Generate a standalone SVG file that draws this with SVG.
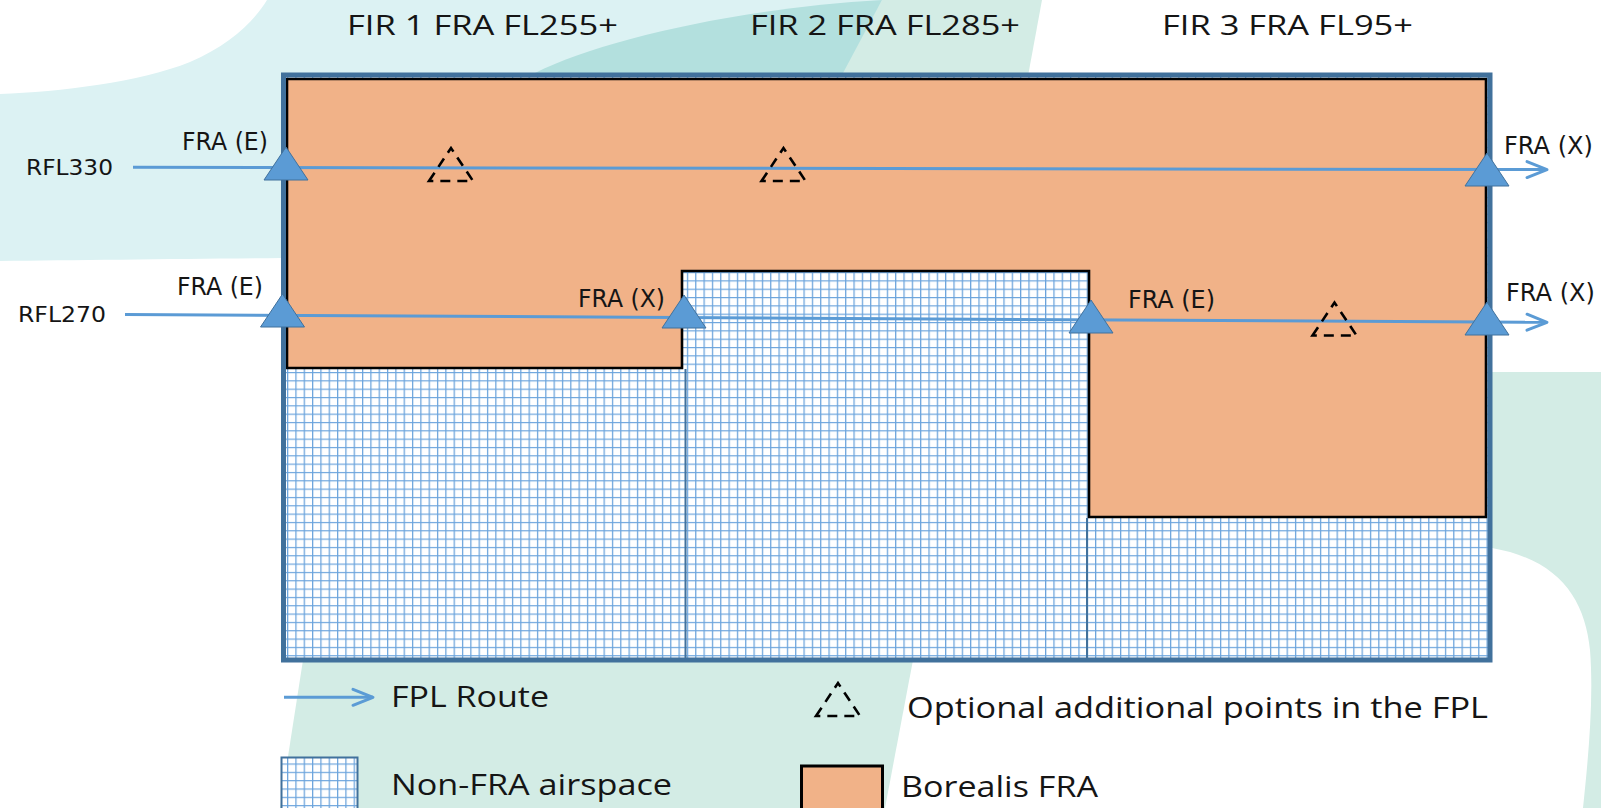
<svg xmlns="http://www.w3.org/2000/svg" xmlns:xlink="http://www.w3.org/1999/xlink" width="1601" height="808" viewBox="0 0 1601 808">
<style>
.lbl{font-family:"DejaVu Sans","Liberation Sans",sans-serif;font-size:24px;fill:#151515}
.ttl{font-family:"Open Sans","Liberation Sans",sans-serif;font-size:28px;fill:#151515}
.leg{font-family:"Open Sans","Liberation Sans",sans-serif;font-size:29px;fill:#151515}
.route{fill:none;stroke:#5b9bd5;stroke-width:3}
.pt{fill:#5b9bd5;stroke:#41719c;stroke-width:1}
.opt{fill:none;stroke:#000;stroke-width:2.6;stroke-dasharray:10 7}
</style>
<defs>
<pattern id="grid" width="8.33" height="8.33" patternUnits="userSpaceOnUse" x="287" y="272">
<rect width="8.33" height="8.33" fill="#fff"/>
<path d="M0,0.6 H8.33 M0.6,0 V8.33" stroke="#6aa3dc" stroke-width="1.3"/>
</pattern>
<marker id="arr" markerUnits="userSpaceOnUse" markerWidth="28" markerHeight="24" viewBox="-25 -12 28 24" refX="0" refY="0" orient="auto">
<path d="M-20,-8 L0,0 L-20,8" fill="none" stroke="#5b9bd5" stroke-width="3" stroke-linecap="round" stroke-linejoin="round"/>
</marker>
<polygon id="tri" points="0,0 22,33 -22,33"/>
<path id="optTri" d="M-22,33 L0,0 L22,33 Z"/>
</defs>

<g id="background">
<rect width="1601" height="808" fill="#fff"/>
<path d="M0,94 C60,92 140,82 190,62 C230,45 255,20 267,0 L882,0 L843,300 L281,300 L281,258 C180,259 80,260 0,261 Z" fill="#dcf2f3"/>
<path d="M882,0 L1042,0 L1028,76 L840,76 Z" fill="#d3ece5"/>
<path d="M535,73 C600,40 740,8 882,0 L843,73 Z" fill="#b3e0de"/>
<path d="M303,660 L913,660 L885,808 L280,808 Z" fill="#d3ece5"/>
<path d="M1490,372 L1601,372 L1601,808 L1583,808 C1588,760 1594,700 1590,650 C1585,600 1560,560 1492,548 Z" fill="#d3ece5"/>
</g>

<g id="airspace">
<rect id="non-fra" x="284" y="77" width="1205" height="583" fill="url(#grid)"/>
<path id="borealis-fra" d="M287,79 L1486,79 L1486,517 L1089,517 L1089,271 L682,271 L682,368 L287,368 Z" fill="#f1b288" stroke="#000" stroke-width="2.6"/>
<path id="fir-dividers" d="M685.5,369 V660 M1087,518 V660" stroke="#41719c" stroke-width="2"/>
<rect id="frame" x="283.5" y="75" width="1206.5" height="585" fill="none" stroke="#41719c" stroke-width="5"/>
</g>

<g id="connectors">
<path id="route-rfl330" class="route" d="M133,167.3 L1547,169.6" marker-end="url(#arr)"/>
<path id="route-rfl270" class="route" d="M125,314.5 L1547,322.3" marker-end="url(#arr)"/>
</g>

<g id="points">
<g id="p330-entry"><use href="#tri" class="pt" x="286" y="147"/></g>
<g id="p330-exit"><use href="#tri" class="pt" x="1487" y="153"/></g>
<g id="p270-entry"><use href="#tri" class="pt" x="282.5" y="294"/></g>
<g id="p270-fir1-exit"><use href="#tri" class="pt" x="684" y="295"/></g>
<g id="p270-fir3-entry"><use href="#tri" class="pt" x="1091" y="300"/></g>
<g id="p270-exit"><use href="#tri" class="pt" x="1487" y="302"/></g>
<g id="opt1"><use href="#optTri" class="opt" x="451" y="148"/></g>
<g id="opt2"><use href="#optTri" class="opt" x="783.5" y="148"/></g>
<g id="opt3"><use href="#optTri" class="opt" x="1334.5" y="302.5"/></g>
</g>

<g id="titles">
<text class="ttl" x="347" y="35" textLength="271" lengthAdjust="spacingAndGlyphs">FIR 1 FRA FL255+</text>
<text class="ttl" x="750" y="35" textLength="270" lengthAdjust="spacingAndGlyphs">FIR 2 FRA FL285+</text>
<text class="ttl" x="1162" y="35" textLength="251" lengthAdjust="spacingAndGlyphs">FIR 3 FRA FL95+</text>
</g>

<g id="labels">
<text class="lbl" x="182" y="150" textLength="86" lengthAdjust="spacingAndGlyphs">FRA (E)</text>
<text class="lbl" x="26" y="175" style="font-size:22px" textLength="87" lengthAdjust="spacingAndGlyphs">RFL330</text>
<text class="lbl" x="177" y="295" textLength="86" lengthAdjust="spacingAndGlyphs">FRA (E)</text>
<text class="lbl" x="18" y="321.5" style="font-size:22px" textLength="88" lengthAdjust="spacingAndGlyphs">RFL270</text>
<text class="lbl" x="578" y="307" textLength="87" lengthAdjust="spacingAndGlyphs">FRA (X)</text>
<text class="lbl" x="1128" y="308" textLength="87" lengthAdjust="spacingAndGlyphs">FRA (E)</text>
<text class="lbl" x="1504" y="154" textLength="89" lengthAdjust="spacingAndGlyphs">FRA (X)</text>
<text class="lbl" x="1506" y="300.5" textLength="89" lengthAdjust="spacingAndGlyphs">FRA (X)</text>
</g>

<g id="legend">
<g id="legend-route">
<path class="route" d="M284,697.3 L373,697.3" marker-end="url(#arr)"/>
<text class="leg" x="391" y="707" textLength="158" lengthAdjust="spacingAndGlyphs">FPL Route</text>
</g>
<g id="legend-optional">
<use href="#optTri" class="opt" x="838" y="683"/>
<text class="leg" x="907" y="718" textLength="581" lengthAdjust="spacingAndGlyphs">Optional additional points in the FPL</text>
</g>
<g id="legend-nonfra">
<rect x="281.5" y="757.5" width="76" height="62" fill="url(#grid)" stroke="#41719c" stroke-width="2"/>
<text class="leg" x="391" y="795" textLength="281" lengthAdjust="spacingAndGlyphs">Non-FRA airspace</text>
</g>
<g id="legend-fra">
<rect x="801.5" y="766" width="81" height="52" fill="#f1b288" stroke="#000" stroke-width="3"/>
<text class="leg" x="901" y="796.5" textLength="197" lengthAdjust="spacingAndGlyphs">Borealis FRA</text>
</g>
</g>
</svg>
